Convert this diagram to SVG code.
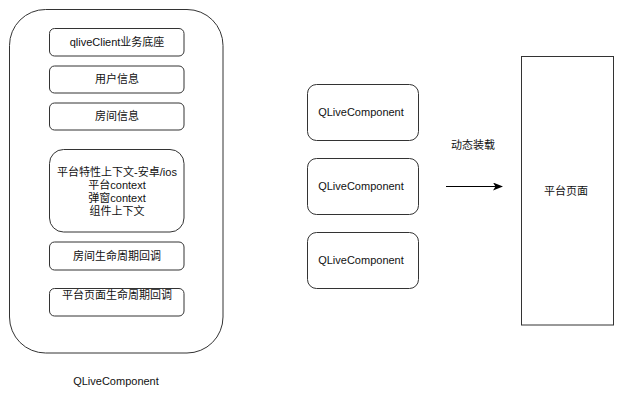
<svg xmlns="http://www.w3.org/2000/svg" width="624" height="406" viewBox="0 0 624 406">
<defs>
<style>
.b{fill:#fff;stroke:#333;stroke-width:1}
.t{font-family:"Liberation Sans","Noto Sans CJK SC",sans-serif;font-size:11px;fill:#111;text-anchor:middle}
.c{stroke:#000;stroke-width:1;fill:none}
</style>
<marker id="ah" markerWidth="10" markerHeight="8" refX="9" refY="4" orient="auto" markerUnits="userSpaceOnUse">
<path d="M0,0 L10,4 L0,8 L2.5,4 Z" fill="#000"/>
</marker>
</defs>
<rect width="624" height="406" fill="#fff"/>
<g id="outer">
<rect class="b" x="9.5" y="9.5" width="213.5" height="343.5" rx="36" ry="36"/>
<text class="t" x="116" y="385">QLiveComponent</text>
</g>
<g id="n1"><rect class="b" x="49.5" y="28.5" width="134.5" height="27.5" rx="5"/><text class="t" x="117" y="46">qliveClient业务底座</text></g>
<g id="n2"><rect class="b" x="49.5" y="66" width="134.5" height="27" rx="5"/><text class="t" x="117" y="83">用户信息</text></g>
<g id="n3"><rect class="b" x="49.5" y="103" width="134.5" height="27" rx="5"/><text class="t" x="117" y="120">房间信息</text></g>
<g id="n4"><rect class="b" x="49.5" y="149.5" width="134.5" height="82.5" rx="14"/>
<text class="t" x="117" y="176">平台特性上下文-安卓/ios</text>
<text class="t" x="117" y="189">平台context</text>
<text class="t" x="117" y="202">弹窗context</text>
<text class="t" x="117" y="215">组件上下文</text></g>
<g id="n5"><rect class="b" x="49.5" y="242" width="134.5" height="28" rx="5"/><text class="t" x="117" y="260">房间生命周期回调</text></g>
<g id="n6"><rect class="b" x="49.5" y="288.5" width="134.5" height="27.5" rx="5"/><text class="t" x="117" y="299">平台页面生命周期回调</text></g>
<g id="q1"><rect class="b" x="307.5" y="84.5" width="111" height="56" rx="9"/><text class="t" x="361" y="116">QLiveComponent</text></g>
<g id="q2"><rect class="b" x="307.5" y="158.5" width="111" height="56" rx="9"/><text class="t" x="361" y="190">QLiveComponent</text></g>
<g id="q3"><rect class="b" x="307.5" y="232.5" width="111" height="56" rx="9"/><text class="t" x="361" y="264">QLiveComponent</text></g>
<g id="page"><rect class="b" x="521.5" y="56.5" width="92" height="268.5"/><text class="t" x="566" y="195">平台页面</text></g>
<g id="connectors">
<line class="c" x1="446" y1="186.5" x2="502" y2="186.5" marker-end="url(#ah)"/>
<text class="t" x="473" y="149">动态装载</text>
</g>
</svg>
